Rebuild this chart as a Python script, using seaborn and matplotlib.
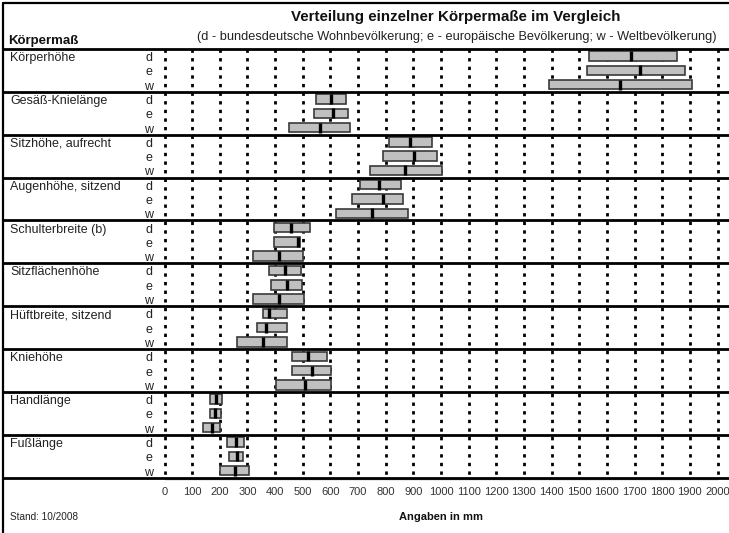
import matplotlib
matplotlib.use("Agg")
import matplotlib.pyplot as plt
import matplotlib.transforms as mtransforms
from matplotlib.lines import Line2D
import seaborn as sns
import pandas as pd

# ---------------- data ----------------
measures = ["Körperhöhe", "Gesäß-Knielänge", "Sitzhöhe, aufrecht", "Augenhöhe, sitzend",
            "Schulterbreite (b)", "Sitzflächenhöhe", "Hüftbreite, sitzend", "Kniehöhe",
            "Handlänge", "Fußlänge"]
populations = ["d", "e", "w"]

d_min = [1535, 548, 811, 707, 396, 378, 355, 460, 164, 227]
d_med = [1686, 602, 887, 776, 457, 435, 379, 518, 186, 258]
d_max = [1853, 656, 966, 857, 528, 492, 442, 588, 209, 288]

e_min = [1529, 541, 792, 678, 396, 384, 333, 460, 164, 233]
e_med = [1718, 610, 903, 791, 484, 442, 367, 532, 184, 261]
e_max = [1881, 664, 984, 861, 490, 496, 442, 602, 203, 283]

w_min = [1389, 451, 743, 619, 319, 319, 261, 403, 140, 201]
w_med = [1649, 562, 869, 749, 415, 415, 355, 508, 171, 255]
w_max = [1907, 670, 1002, 879, 502, 504, 442, 602, 201, 305]

x_ticks = list(range(0, 2001, 100))

title = "Verteilung einzelner Körpermaße im Vergleich"
subtitle = "(d - bundesdeutsche Wohnbevölkerung; e - europäische Bevölkerung; w - Weltbevölkerung)"

# ---------------- table ----------------
rows = []
for gi, m in enumerate(measures):
    for pi, (p, lo, me, hi) in enumerate(zip(populations,
                                             [d_min, e_min, w_min],
                                             [d_med, e_med, w_med],
                                             [d_max, e_max, w_max])):
        rows.append(dict(measure=m, pop=p, row=gi * 3 + pi,
                         lo=lo[gi], med=me[gi], hi=hi[gi]))
df = pd.DataFrame(rows)

# ---------------- style ----------------
sns.set_theme(style="white")
plt.rcParams["font.family"] = ["Liberation Sans", "DejaVu Sans"]

W, H = 729, 533
fig = plt.figure(figsize=(W / 100, H / 100), dpi=100)
fig.patch.set_facecolor("white")

def fx(px):
    return px / W

def fy(py):
    return 1 - py / H

x0, x1 = 164.5, 717.5
y_top, y_bot = 49, 477.7
ax = fig.add_axes([fx(x0), fy(y_bot), (x1 - x0) / W, (y_bot - y_top) / H])
ax.set_facecolor("none")
nrows = len(df)
ax.set_xlim(0, 2000)
ax.set_ylim(nrows - 0.5, -0.5)
for s in ax.spines.values():
    s.set_visible(False)

# dotted vertical grid
ax.vlines(x_ticks, -0.5, nrows - 0.5, colors="black",
          linestyles=[(0, (1.2, 1.9))], linewidth=2.0, zorder=1, clip_on=False)

# bars (min..max)
ax.barh(df["row"], df["hi"] - df["lo"], left=df["lo"], height=0.66,
        color="#c0c0c0", edgecolor="#3a3a3a", linewidth=1.2, zorder=2)

# medians
sns.scatterplot(data=df, x="med", y="row", marker="|", s=48, color="black",
                linewidth=2.4, ax=ax, legend=False, zorder=3)
ax.set_xlabel("")
ax.set_ylabel("")

# ticks
ax.set_xticks(x_ticks)
ax.set_xticklabels([str(t) for t in x_ticks], fontsize=8.0, color="#333333")
ax.tick_params(axis="x", length=0, pad=7)
ax.set_yticks([])

# bottom axis line (grey) under last separator
ax.plot([0, 2000], [nrows - 0.5 + 0.12, nrows - 0.5 + 0.12], color="#888888",
        linewidth=1.0, clip_on=False, zorder=4)

# group separator lines
xmin_frac = -(x0 - 3) / (x1 - x0)
xmax_frac = (W - x0) / (x1 - x0)
for k in range(len(measures) + 1):
    ax.axhline(k * 3 - 0.5, xmin=xmin_frac, xmax=xmax_frac, color="black",
               linewidth=2.0, clip_on=False, zorder=5)

# labels for groups and populations
trans = mtransforms.blended_transform_factory(fig.transFigure, ax.transData)
for gi, m in enumerate(measures):
    ax.text(fx(10), gi * 3 + 0.14, m, transform=trans, ha="left", va="center",
            fontsize=9.0, color="#222222")
    for pi, p in enumerate(populations):
        ax.text(fx(149), gi * 3 + pi + 0.14, p, transform=trans, ha="center",
                va="center", fontsize=9, color="#222222")

# outer frame (left and top)
fig.add_artist(Line2D([fx(3), fx(3)], [0, fy(3)], transform=fig.transFigure,
                      color="black", linewidth=1.6))
fig.add_artist(Line2D([fx(3), 1], [fy(3), fy(3)], transform=fig.transFigure,
                      color="black", linewidth=1.6))

# header texts
fig.text(fx(455.5), fy(17), title, ha="center", va="center", fontsize=10.9,
         fontweight="bold", color="#111111")
fig.text(fx(456.5), fy(37), subtitle, ha="center", va="center", fontsize=9.2,
         color="#222222")
fig.text(fx(8), fy(41), "Körpermaß", ha="left", va="center", fontsize=9.5,
         fontweight="bold", color="#111111")

# footer texts
fig.text(fx(441), fy(517), "Angaben in mm", ha="center", va="center",
         fontsize=8, fontweight="bold", color="#111111")
fig.text(fx(10), fy(517), "Stand: 10/2008", ha="left", va="center",
         fontsize=7.2, color="#222222")

fig.savefig("out.png", dpi=100, facecolor="white")
